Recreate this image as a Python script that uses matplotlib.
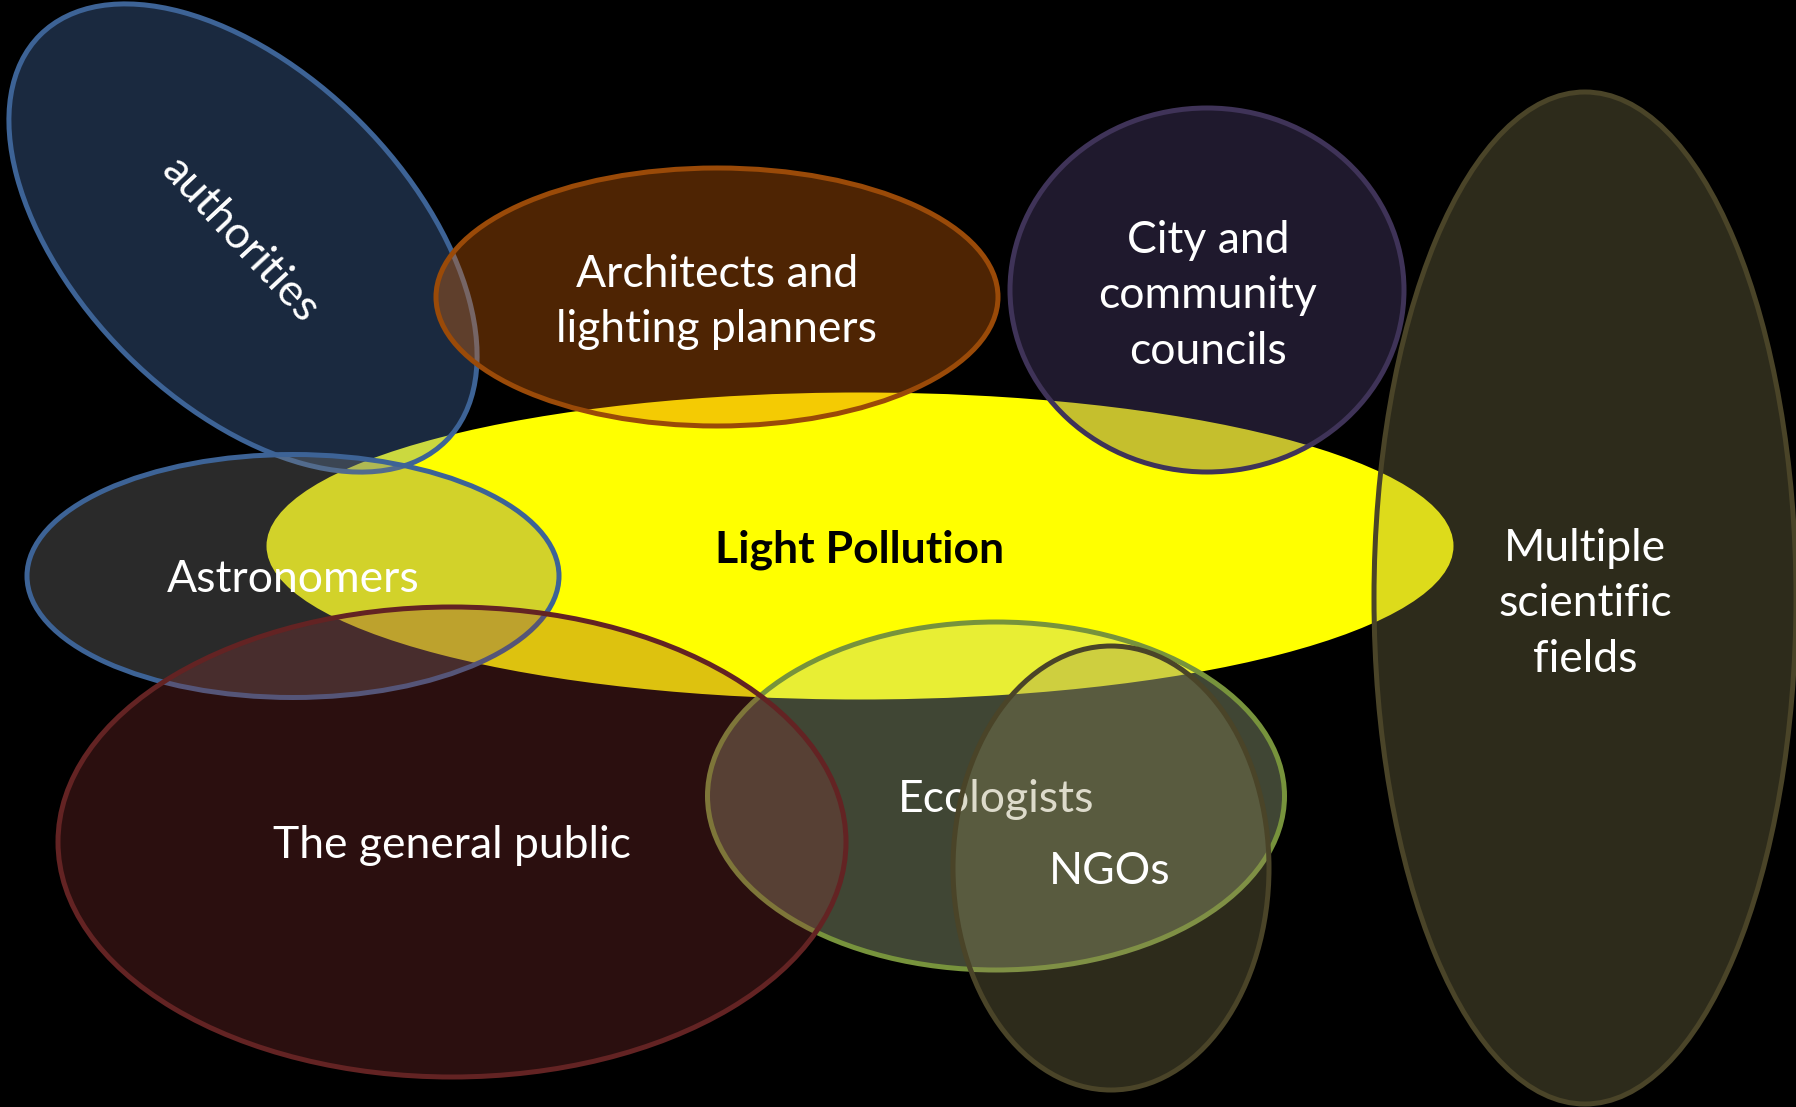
import matplotlib
matplotlib.use("Agg")
import matplotlib.pyplot as plt
from matplotlib.patches import Ellipse

# ---- chart content -------------------------------------------------------
labels = ["Light Pollution", "authorities", "Architects and\nlighting planners",
          "City and\ncommunity\ncouncils", "Multiple\nscientific\nfields",
          "Astronomers", "Ecologists", "The general public", "NGOs"]
center_x = [860, 243, 717, 1207, 1585, 293, 996, 452, 1111]
center_y = [546, 238, 297, 290, 598, 576, 796, 842, 868]
widths = [1187, 574, 562, 394, 422, 532, 577, 788, 316]
heights = [307, 330, 258, 364, 1012, 243, 348, 470, 444]
angles = [0, 45, 0, 0, 0, 0, 0, 0, 0]
label_x = [860, 240, 717, 1208, 1585, 293, 996, 452, 1110]
label_y = [550, 240, 302, 296, 604, 580, 799, 845, 872]
label_rot = [0, -47, 0, 0, 0, 0, 0, 0, 0]

# ---- styles --------------------------------------------------------------
face_rgb = ["#ffff00", "#5787ce", "#e26a0b", "#5b4a83", "#948b5a",
            "#7c7c7c", "#bcce99", "#8f3535", "#948b5a"]
face_alpha = [1.0, 0.31, 0.35, 0.35, 0.31, 0.34, 0.34, 0.30, 0.31]
edge_col = ["none", "#3d6396", "#9a4a08", "#3f3358", "#4a4428",
            "#3d6396", "#77933c", "#632323", "#4a4428"]
text_col = ["black"] + ["white"] * 8
text_weight = ["bold"] + ["normal"] * 8

FONT = ["Lato", "DejaVu Sans"]
FS = 32

fig = plt.figure(figsize=(17.96, 11.07), dpi=100, facecolor="black")
ax = fig.add_axes([0, 0, 1, 1])
ax.set_facecolor("black")
ax.set_xlim(0, 1796)
ax.set_ylim(1107, 0)
ax.axis("off")

z = 1
for i in range(len(labels)):
    r, g, b = matplotlib.colors.to_rgb(face_rgb[i])
    e = Ellipse((center_x[i], center_y[i]), widths[i], heights[i], angle=angles[i],
                facecolor=(r, g, b, face_alpha[i]),
                edgecolor=edge_col[i], linewidth=0 if edge_col[i] == "none" else 3.6,
                zorder=z)
    ax.add_patch(e)
    ax.text(label_x[i], label_y[i], labels[i], color=text_col[i],
            fontsize=FS, fontweight=text_weight[i], family=FONT,
            ha="center", va="center", rotation=label_rot[i],
            rotation_mode="anchor", linespacing=1.45, multialignment="center",
            zorder=z + 1)
    z += 2

fig.savefig("out.png", dpi=100, facecolor="black")
